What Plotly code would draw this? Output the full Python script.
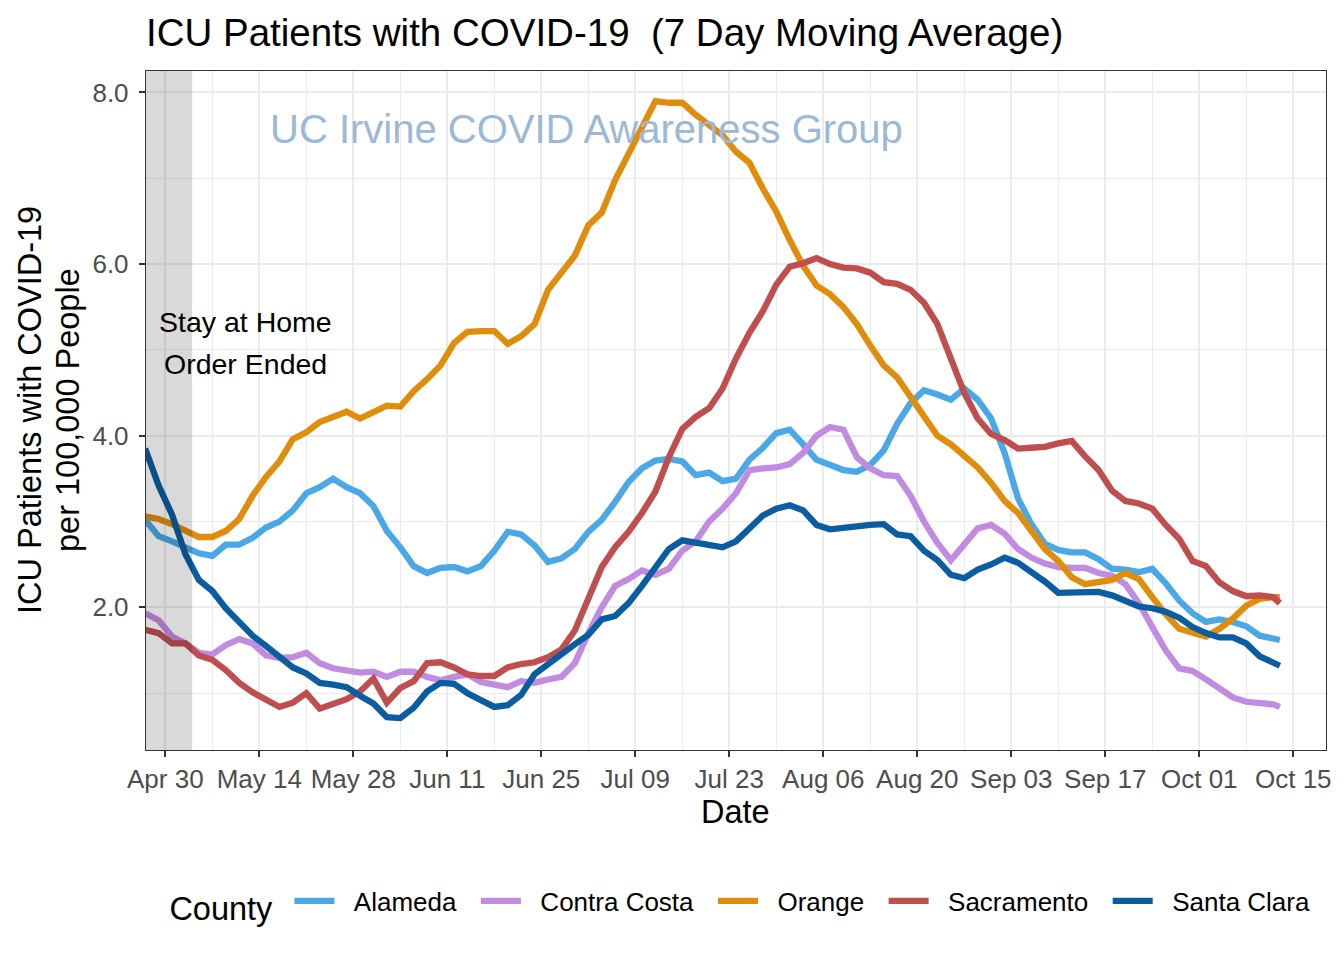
import plotly.graph_objects as go

dates = [
    "2020-04-27", "2020-04-29", "2020-05-01", "2020-05-03", "2020-05-05", "2020-05-07", "2020-05-09", "2020-05-11", "2020-05-13", "2020-05-15",
    "2020-05-17", "2020-05-19", "2020-05-21", "2020-05-23", "2020-05-25", "2020-05-27", "2020-05-29", "2020-05-31", "2020-06-02", "2020-06-04",
    "2020-06-06", "2020-06-08", "2020-06-10", "2020-06-12", "2020-06-14", "2020-06-16", "2020-06-18", "2020-06-20", "2020-06-22", "2020-06-24",
    "2020-06-26", "2020-06-28", "2020-06-30", "2020-07-02", "2020-07-04", "2020-07-06", "2020-07-08", "2020-07-10", "2020-07-12", "2020-07-14",
    "2020-07-16", "2020-07-18", "2020-07-20", "2020-07-22", "2020-07-24", "2020-07-26", "2020-07-28", "2020-07-30", "2020-08-01", "2020-08-03",
    "2020-08-05", "2020-08-07", "2020-08-09", "2020-08-11", "2020-08-13", "2020-08-15", "2020-08-17", "2020-08-19", "2020-08-21", "2020-08-23",
    "2020-08-25", "2020-08-27", "2020-08-29", "2020-08-31", "2020-09-02", "2020-09-04", "2020-09-06", "2020-09-08", "2020-09-10", "2020-09-12",
    "2020-09-14", "2020-09-16", "2020-09-18", "2020-09-20", "2020-09-22", "2020-09-24", "2020-09-26", "2020-09-28", "2020-09-30", "2020-10-02",
    "2020-10-04", "2020-10-06", "2020-10-08", "2020-10-10", "2020-10-12", "2020-10-13",
]

alameda = [
    3.02, 2.83, 2.77, 2.70, 2.63, 2.60, 2.73, 2.73, 2.81, 2.93,
    3.00, 3.13, 3.33, 3.40, 3.50, 3.40, 3.33, 3.18, 2.89, 2.70,
    2.48, 2.40, 2.46, 2.47, 2.42, 2.48, 2.66, 2.88, 2.85, 2.72,
    2.53, 2.57, 2.68, 2.88, 3.02, 3.23, 3.46, 3.62, 3.71, 3.73,
    3.70, 3.54, 3.57, 3.47, 3.50, 3.72, 3.86, 4.03, 4.07, 3.90,
    3.72, 3.66, 3.60, 3.58, 3.66, 3.83, 4.14, 4.38, 4.53, 4.48,
    4.42, 4.55, 4.42, 4.20, 3.80, 3.27, 2.97, 2.74, 2.67, 2.64,
    2.64, 2.56, 2.45, 2.44, 2.41, 2.45, 2.28, 2.08, 1.93, 1.83,
    1.86, 1.83, 1.78, 1.67, 1.63, 1.62,
]

contra_costa = [
    1.93, 1.85, 1.66, 1.58, 1.47, 1.45, 1.56, 1.63, 1.58, 1.44,
    1.41, 1.42, 1.47, 1.35, 1.29, 1.27, 1.24, 1.25, 1.19, 1.25,
    1.25, 1.19, 1.15, 1.19, 1.22, 1.13, 1.10, 1.07, 1.14, 1.12,
    1.16, 1.19, 1.35, 1.70, 2.00, 2.25, 2.33, 2.43, 2.38, 2.45,
    2.66, 2.77, 3.00, 3.15, 3.33, 3.60, 3.62, 3.63, 3.67, 3.80,
    4.00, 4.10, 4.07, 3.75, 3.62, 3.54, 3.53, 3.30, 3.00, 2.75,
    2.55, 2.74, 2.92, 2.96, 2.86, 2.68, 2.58, 2.51, 2.47, 2.46,
    2.46, 2.40, 2.37, 2.27, 2.05, 1.77, 1.50, 1.29, 1.26, 1.16,
    1.05, 0.95, 0.90, 0.89, 0.87, 0.84,
]

orange = [
    3.06, 3.03, 2.97, 2.90, 2.82, 2.82, 2.89, 3.03, 3.30, 3.52,
    3.70, 3.96, 4.04, 4.16, 4.23, 4.28, 4.20, 4.28, 4.35, 4.34,
    4.52, 4.66, 4.82, 5.08, 5.21, 5.22, 5.22, 5.07, 5.16, 5.30,
    5.70, 5.90, 6.10, 6.45, 6.60, 6.98, 7.30, 7.60, 7.90, 7.88,
    7.88, 7.74, 7.62, 7.50, 7.31, 7.18, 6.88, 6.61, 6.28, 5.98,
    5.75, 5.65, 5.50, 5.30, 5.05, 4.82, 4.68, 4.46, 4.22, 4.00,
    3.90, 3.76, 3.63, 3.45, 3.24, 3.10, 2.90, 2.68, 2.54, 2.35,
    2.27, 2.29, 2.32, 2.40, 2.33, 2.12, 1.92, 1.75, 1.70, 1.66,
    1.75, 1.87, 2.02, 2.10, 2.12, 2.12,
]

sacramento = [
    1.74, 1.70, 1.58, 1.58, 1.44, 1.39, 1.27, 1.12, 1.01, 0.92,
    0.84, 0.89, 1.00, 0.82, 0.88, 0.93, 1.02, 1.17, 0.89, 1.06,
    1.14, 1.35, 1.36, 1.30, 1.22, 1.20, 1.20, 1.30, 1.34, 1.36,
    1.42, 1.51, 1.73, 2.08, 2.47, 2.70, 2.88, 3.10, 3.35, 3.75,
    4.08, 4.22, 4.32, 4.55, 4.90, 5.20, 5.45, 5.76, 5.97, 6.01,
    6.07, 6.00, 5.96, 5.95, 5.90, 5.79, 5.77, 5.70, 5.55, 5.30,
    4.90, 4.50, 4.20, 4.02, 3.95, 3.85, 3.86, 3.87, 3.91, 3.94,
    3.76, 3.60, 3.36, 3.24, 3.21, 3.15, 2.96, 2.80, 2.54, 2.48,
    2.29, 2.19, 2.13, 2.14, 2.12, 2.05,
]

santa_clara = [
    3.85, 3.42, 3.08, 2.62, 2.32, 2.19, 1.99, 1.83, 1.67, 1.55,
    1.42, 1.30, 1.23, 1.12, 1.10, 1.07, 0.97, 0.88, 0.72, 0.71,
    0.83, 1.02, 1.12, 1.11, 1.00, 0.91, 0.84, 0.86, 0.98, 1.22,
    1.34, 1.47, 1.57, 1.68, 1.86, 1.90, 2.05, 2.25, 2.48, 2.68,
    2.78, 2.75, 2.72, 2.70, 2.77, 2.93, 3.07, 3.15, 3.19, 3.13,
    2.96, 2.91, 2.93, 2.95, 2.96, 2.97, 2.85, 2.83, 2.66, 2.55,
    2.38, 2.34, 2.44, 2.50, 2.58, 2.52, 2.42, 2.30, 2.17, 2.17,
    2.17, 2.18, 2.14, 2.08, 2.01, 1.99, 1.95, 1.88, 1.77, 1.70,
    1.65, 1.65, 1.58, 1.43, 1.35, 1.32,
]

counties = ["Alameda", "Contra Costa", "Orange", "Sacramento", "Santa Clara"]
series = [alameda, contra_costa, orange, sacramento, santa_clara]
colors = ["#4ba8e6", "#c08be0", "#e08d0b", "#c04e4e", "#0b5da2"]

x_tick_dates = ["2020-04-30", "2020-05-14", "2020-05-28", "2020-06-11", "2020-06-25", "2020-07-09",
                "2020-07-23", "2020-08-06", "2020-08-20", "2020-09-03", "2020-09-17", "2020-10-01", "2020-10-15"]
x_tick_labels = ["Apr 30", "May 14", "May 28", "Jun 11", "Jun 25", "Jul 09",
                 "Jul 23", "Aug 06", "Aug 20", "Sep 03", "Sep 17", "Oct 01", "Oct 15"]
y_tick_vals = [2, 4, 6, 8]
y_tick_labels = ["2.0", "4.0", "6.0", "8.0"]
y_title_lines = ["ICU Patients with COVID-19", "per 100,000 People"]

FONT = "Liberation Sans, Arial, Helvetica, sans-serif"
NB = "\u00a0"

fig = go.Figure()
for name, vals, col in zip(counties, series, colors):
    fig.add_trace(go.Scatter(x=dates, y=vals, mode="lines", name=NB * 2 + name + NB * 2,
                             line=dict(color=col, width=6.3)))

fig.add_shape(type="rect", xref="x", yref="y domain", x0="2020-04-20", x1="2020-05-04",
              y0=0, y1=1, fillcolor="rgba(0,0,0,0.15)", line=dict(width=0), layer="above")

fig.add_annotation(x="2020-07-01 18:00", y=7.57, xref="x", yref="y",
                   text="UC Irvine COVID Awareness Group", showarrow=False,
                   font=dict(family=FONT, size=40, color="#9bb9d7"), xanchor="center", yanchor="middle")
fig.add_annotation(x="2020-05-12", y=5.33, xref="x", yref="y", text="Stay at Home", showarrow=False,
                   font=dict(family=FONT, size=28.5, color="black"), xanchor="center", yanchor="middle")
fig.add_annotation(x="2020-05-12", y=4.84, xref="x", yref="y", text="Order Ended", showarrow=False,
                   font=dict(family=FONT, size=28.5, color="black"), xanchor="center", yanchor="middle")

fig.add_annotation(x=(735 - 146) / 1180, y=(750 - 812) / 679, xref="paper", yref="paper", text="Date",
                   showarrow=False, font=dict(family=FONT, size=32.5, color="black"),
                   xanchor="center", yanchor="middle")
for line_text, px in zip(y_title_lines, [29.5, 67.5]):
    fig.add_annotation(x=(px - 146) / 1180, y=0.5, xref="paper", yref="paper",
                       text=line_text, textangle=-90,
                       showarrow=False, font=dict(family=FONT, size=32.5, color="black"),
                       xanchor="center", yanchor="middle")

axis_common = dict(showline=True, mirror=True, linecolor="#333333", linewidth=1.4,
                   ticks="outside", ticklen=6, tickwidth=1.5, tickcolor="#333333",
                   showgrid=True, gridcolor="#ebebeb", gridwidth=2, zeroline=False,
                   tickfont=dict(family=FONT, size=26, color="#4d4d4d"))

fig.update_layout(
    width=1344, height=960,
    margin=dict(l=146, r=18, t=71, b=210),
    paper_bgcolor="white", plot_bgcolor="white",
    title=dict(text="ICU Patients with COVID-19 \u00a0(7 Day Moving Average)",
               x=146 / 1344, xref="container", xanchor="left",
               y=1 - 33 / 960, yref="container", yanchor="middle",
               font=dict(family=FONT, size=38.5, color="black")),
    xaxis=dict(range=["2020-04-27 03:00", "2020-10-19 21:00"],
               tickmode="array", tickvals=x_tick_dates, ticktext=x_tick_labels,
               minor=dict(dtick=7 * 86400000, tick0="2020-04-23", showgrid=True,
                          gridcolor="#ebebeb", gridwidth=1, ticks=""),
               **axis_common),
    yaxis=dict(range=[0.338, 8.25], tickmode="array", tickvals=y_tick_vals, ticktext=y_tick_labels,
               ticklabelstandoff=5,
               minor=dict(dtick=1, tick0=0, showgrid=True, gridcolor="#ebebeb", gridwidth=1, ticks=""),
               **axis_common),
    legend=dict(orientation="h", x=0.5105, xanchor="center", y=(750 - 904) / 679, yanchor="middle",
                title=dict(text="County" + NB, side="left", font=dict(family=FONT, size=32.5, color="black")),
                font=dict(family=FONT, size=26, color="black"), itemwidth=40, bgcolor="rgba(0,0,0,0)"),
    showlegend=True,
)

fig.write_html("out.html")
